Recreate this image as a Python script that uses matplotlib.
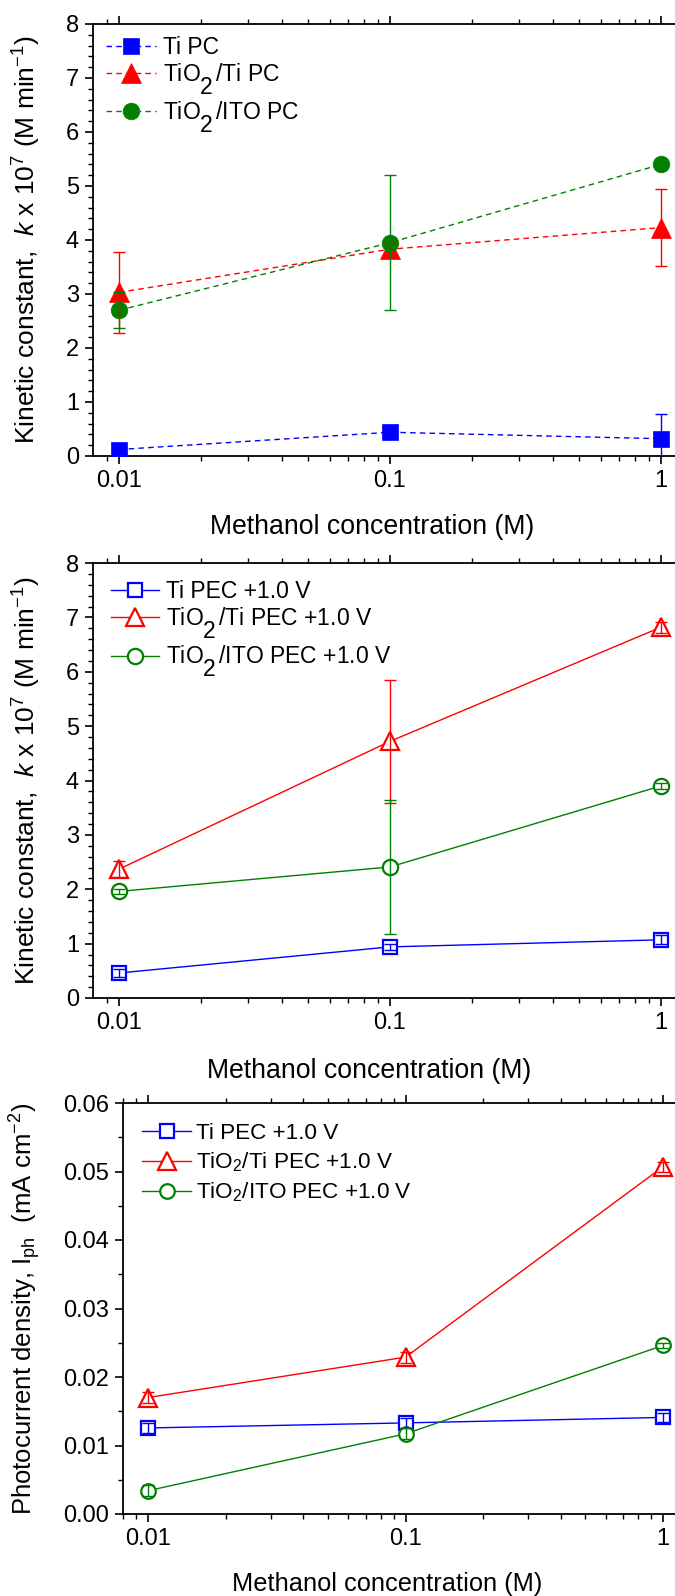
import matplotlib
matplotlib.use("Agg")
import matplotlib.pyplot as plt
from matplotlib.ticker import FixedLocator, NullFormatter, MultipleLocator, FormatStrFormatter, LogLocator
from matplotlib.mathtext import MathTextParser
from matplotlib.font_manager import FontProperties

plt.rcParams['font.family'] = ['Liberation Sans', 'DejaVu Sans']
plt.rcParams['mathtext.fontset'] = 'custom'
plt.rcParams['mathtext.rm'] = 'Liberation Sans'
plt.rcParams['mathtext.it'] = 'Liberation Sans:italic'
plt.rcParams['mathtext.bf'] = 'Liberation Sans:bold'

# ---------------- data ----------------
conc = [0.01, 0.1, 1.0]
xtick_vals = [0.01, 0.1, 1]
xtick_labels = ['0.01', '0.1', '1']

# Panel 1: photocatalysis (PC)
ti_pc = [0.12, 0.44, 0.32]
ti_pc_err = [0.05, 0.05, 0.45]
tio2ti_pc = [3.03, 3.83, 4.23]
tio2ti_pc_err = [0.75, 0.12, 0.72]
tio2ito_pc = [2.70, 3.95, 5.40]
tio2ito_pc_err = [0.33, 1.25, 0.05]

# Panel 2: photoelectrocatalysis (PEC +1.0 V)
ti_pec = [0.46, 0.94, 1.07]
ti_pec_err = [0.08, 0.05, 0.08]
tio2ti_pec = [2.37, 4.72, 6.82]
tio2ti_pec_err = [0.15, 1.13, 0.10]
tio2ito_pec = [1.96, 2.41, 3.90]
tio2ito_pec_err = [0.05, 1.24, 0.05]

# Panel 3: photocurrent density
ti_iph = [0.01256, 0.0133, 0.0141]
ti_iph_err = [0.0007, 0.0007, 0.0006]
tio2ti_iph = [0.0170, 0.0229, 0.0507]
tio2ti_iph_err = [0.0008, 0.0008, 0.0007]
tio2ito_iph = [0.0034, 0.0117, 0.0246]
tio2ito_iph_err = [0.0008, 0.0008, 0.0004]

# large, lowered subscript "2" (as in the original panels 1 and 2)
SUB2_BIG = r'$\genfrac{}{}{0}{0}{\,}{2}$'
try:
    MathTextParser('agg').parse(SUB2_BIG, dpi=100, prop=FontProperties(size=16))
except Exception:
    SUB2_BIG = r'$_2$'

labels_pc = ['Ti PC', 'TiO' + SUB2_BIG + '/Ti PC', 'TiO' + SUB2_BIG + '/ITO PC']
labels_pec_big = ['Ti PEC +1.0 V', 'TiO' + SUB2_BIG + '/Ti PEC +1.0 V', 'TiO' + SUB2_BIG + '/ITO PEC +1.0 V']
labels_pec = ['Ti PEC +1.0 V', r'TiO$_2$/Ti PEC +1.0 V', r'TiO$_2$/ITO PEC +1.0 V']

BLUE = '#0000FF'
RED = '#FF0000'
GREEN = '#008000'

TICK_FS = 17
LEG_FS = 16.5
LEG3_FS = 16.2
XLAB_FS = 19.2
XLAB3_FS = 18.3
YLAB_FS = 19
YLAB3_FS = 18.5

W, H = 675, 1596
fig = plt.figure(figsize=(W / 100, H / 100), dpi=100)


def make_ax(left, right, top, bottom):
    return fig.add_axes([left / W, 1 - bottom / H, (right - left) / W, (bottom - top) / H])


def style_ax(ax, x0px, x001px, x1px, right_px):
    d = (x1px - x001px) / 2.0
    lo = 10 ** (-2 - (x001px - x0px) / d)
    hi = 10 ** ((right_px - x1px) / d)
    ax.set_xscale('log')
    ax.set_xlim(lo, hi)
    ax.xaxis.set_major_locator(FixedLocator(xtick_vals))
    ax.set_xticklabels(xtick_labels)
    ax.xaxis.set_minor_locator(LogLocator(base=10, subs=[2, 3, 4, 5, 6, 7, 8, 9], numticks=20))
    ax.xaxis.set_minor_formatter(NullFormatter())
    for sp in ax.spines.values():
        sp.set_linewidth(1.3)
    ax.tick_params(which='major', direction='out', length=6, width=1.2, labelsize=TICK_FS, pad=4,
                   top=True, right=False)
    ax.tick_params(which='minor', direction='out', length=3.5, width=1.0, top=True, right=False)
    ax.tick_params(axis='x', which='both', labeltop=False)


def plot_series(ax, y, err, color, marker, ms, filled, ls, label, mew=1.6):
    if filled:
        ax.plot(conc, y, linestyle=ls, color=color, lw=1.0, marker=marker, ms=ms,
                mfc=color, mec=color, mew=0.5, label=label, zorder=3)
    else:
        ax.plot(conc, y, linestyle=ls, color=color, lw=1.0, marker=marker, ms=ms,
                mfc='white', mec=color, mew=mew, label=label, zorder=3)
    ax.errorbar(conc, y, yerr=err, fmt='none', ecolor=color, elinewidth=1.0,
                capsize=4, capthick=1.0, zorder=4)


dash = (0, (4, 3))
ylab_k = r'Kinetic constant,  $k$ x 10$^7$ (M min$^{-1}$)'

# ---------------- Panel 1 ----------------
ax1 = make_ax(93, 677, 24, 456)
style_ax(ax1, 93, 119, 661, 677)
plot_series(ax1, ti_pc, ti_pc_err, BLUE, 's', 11.5, True, dash, labels_pc[0])
plot_series(ax1, tio2ti_pc, tio2ti_pc_err, RED, '^', 14, True, dash, labels_pc[1])
plot_series(ax1, tio2ito_pc, tio2ito_pc_err, GREEN, 'o', 12, True, dash, labels_pc[2])
ax1.set_ylim(0, 8)
ax1.yaxis.set_major_locator(MultipleLocator(1))
ax1.yaxis.set_minor_locator(MultipleLocator(0.2))
ax1.set_ylabel(ylab_k, fontsize=YLAB_FS)
ax1.yaxis.set_label_coords(-0.085, 0.5)
ax1.set_xlabel('Methanol concentration (M)', fontsize=XLAB_FS)
ax1.xaxis.set_label_coords(0.478, -0.135)
ax1.legend(loc='upper left', bbox_to_anchor=(0.022, 0.972), frameon=False, fontsize=LEG_FS,
           handlelength=2.2, handletextpad=0.3, labelspacing=0.1, borderpad=0, borderaxespad=0)

# ---------------- Panel 2 ----------------
ax2 = make_ax(93, 677, 563, 998)
style_ax(ax2, 93, 119, 661, 677)
plot_series(ax2, ti_pec, ti_pec_err, BLUE, 's', 10, False, '-', labels_pec_big[0])
plot_series(ax2, tio2ti_pec, tio2ti_pec_err, RED, '^', 13, False, '-', labels_pec_big[1])
plot_series(ax2, tio2ito_pec, tio2ito_pec_err, GREEN, 'o', 11, False, '-', labels_pec_big[2])
ax2.set_ylim(0, 8)
ax2.yaxis.set_major_locator(MultipleLocator(1))
ax2.yaxis.set_minor_locator(MultipleLocator(0.2))
ax2.set_ylabel(ylab_k, fontsize=YLAB_FS)
ax2.yaxis.set_label_coords(-0.085, 0.5)
ax2.set_xlabel('Methanol concentration (M)', fontsize=XLAB_FS)
ax2.xaxis.set_label_coords(0.473, -0.138)
ax2.legend(loc='upper left', bbox_to_anchor=(0.03, 0.962), frameon=False, fontsize=LEG_FS,
           handlelength=2.1, handletextpad=0.3, labelspacing=0.12, borderpad=0, borderaxespad=0)

# ---------------- Panel 3 ----------------
ax3 = make_ax(123, 677, 1103, 1514)
style_ax(ax3, 123, 148, 663, 677)
plot_series(ax3, ti_iph, ti_iph_err, BLUE, 's', 9.5, False, '-', labels_pec[0])
plot_series(ax3, tio2ti_iph, tio2ti_iph_err, RED, '^', 12.5, False, '-', labels_pec[1])
plot_series(ax3, tio2ito_iph, tio2ito_iph_err, GREEN, 'o', 10.5, False, '-', labels_pec[2])
ax3.set_ylim(0, 0.06)
ax3.yaxis.set_major_locator(MultipleLocator(0.01))
ax3.yaxis.set_minor_locator(MultipleLocator(0.005))
ax3.yaxis.set_major_formatter(FormatStrFormatter('%.2f'))
ax3.set_ylabel(r'Photocurrent density, I$_{\mathrm{ph}}$  (mA cm$^{-2}$)', fontsize=YLAB3_FS)
ax3.yaxis.set_label_coords(-0.144, 0.5)
ax3.set_xlabel('Methanol concentration (M)', fontsize=XLAB3_FS)
ax3.xaxis.set_label_coords(0.477, -0.14)
ax3.legend(loc='upper left', bbox_to_anchor=(0.034, 0.952), frameon=False, fontsize=LEG3_FS,
           handlelength=2.2, handletextpad=0.2, labelspacing=0.3, borderpad=0, borderaxespad=0)

fig.savefig('out.png', dpi=100)
